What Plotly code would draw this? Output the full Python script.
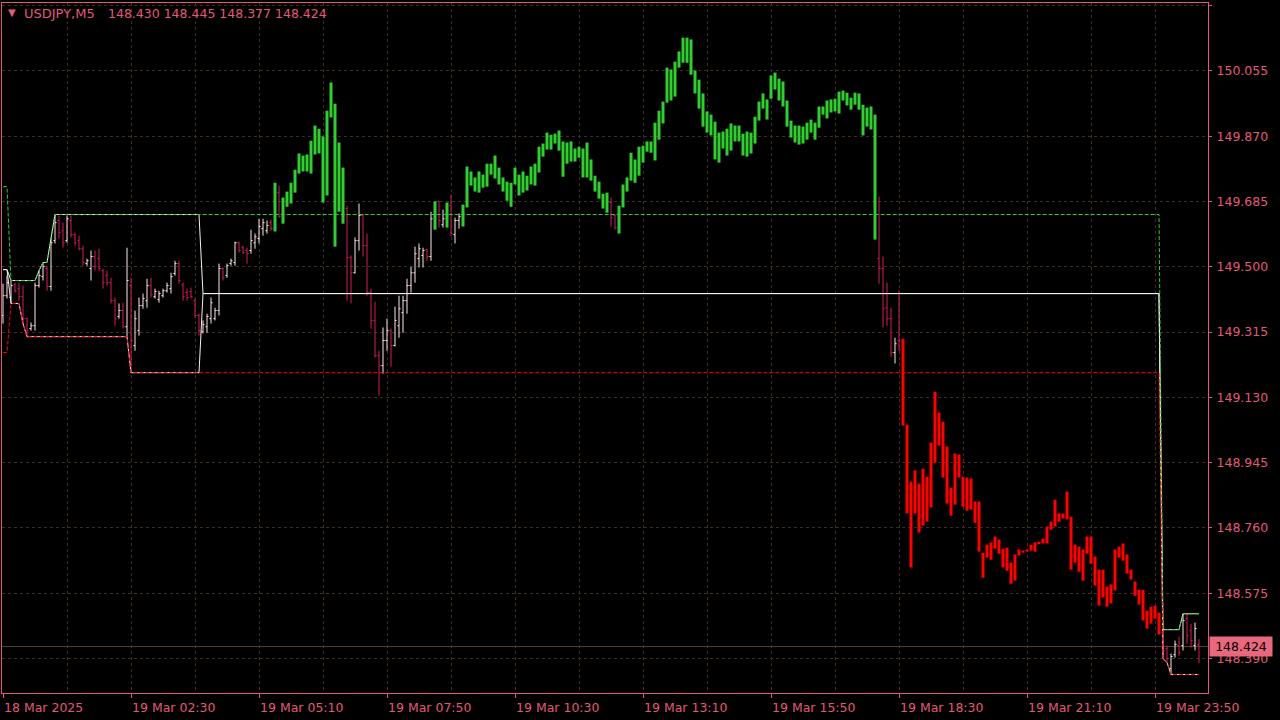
import numpy as np
import plotly.graph_objects as go

# ---------------- data (USDJPY, M5, bar 0 = 18 Mar 23:50) ----------------
open_ = [
149.362,149.418,149.413,149.449,149.438,149.415,149.353,149.325,149.333,149.447,
149.472,149.495,149.444,149.574,149.631,149.602,149.574,149.631,149.591,149.574,
149.551,149.509,149.495,149.529,149.523,149.489,149.475,149.455,149.404,149.359,
149.376,149.330,149.447,149.277,149.319,149.390,149.404,149.447,149.415,149.407,
149.418,149.432,149.438,149.481,149.509,149.449,149.427,149.430,149.404,149.362,
149.316,149.330,149.353,149.353,149.376,149.495,149.475,149.509,149.512,149.568,
149.554,149.546,149.546,149.568,149.580,149.608,149.602,149.625,149.600,149.710,
149.622,149.670,149.679,149.710,149.764,149.815,149.770,149.764,149.818,149.891,
149.869,149.702,149.923,149.557,149.852,149.622,149.665,149.526,149.483,149.574,
149.645,149.560,149.427,149.348,149.248,149.220,149.291,149.319,149.277,149.333,
149.370,149.404,149.447,149.483,149.523,149.532,149.549,149.529,149.605,149.685,
149.619,149.611,149.673,149.591,149.631,149.614,149.668,149.730,149.753,149.710,
149.761,149.727,149.761,149.750,149.781,149.753,149.741,149.670,149.733,149.761,
149.710,149.716,149.733,149.792,149.767,149.812,149.832,149.874,149.849,149.829,
149.855,149.792,149.855,149.798,149.840,149.835,149.753,149.804,149.758,149.741,
149.707,149.710,149.682,149.645,149.594,149.668,149.713,149.744,149.804,149.758,
149.843,149.826,149.855,149.801,149.860,149.906,149.965,150.059,149.982,150.064,
150.078,150.149,150.144,150.056,150.030,149.991,149.940,149.872,149.911,149.795,
149.883,149.815,149.906,149.855,149.900,149.877,149.812,149.880,149.849,149.914,
149.948,149.974,149.976,150.002,150.033,150.025,149.971,149.914,149.900,149.846,
149.897,149.860,149.880,149.908,149.894,149.931,149.920,149.937,149.976,149.934,
149.971,149.993,149.945,149.959,149.991,149.959,149.897,149.954,149.577,149.523,
149.495,149.384,149.353,149.257,149.291,149.296,149.053,148.891,148.801,148.886,
148.767,148.905,148.818,148.945,149.087,149.061,148.991,148.874,148.826,148.968,
148.905,148.809,148.900,148.835,148.835,148.690,148.676,148.719,148.701,148.727,
148.701,148.639,148.662,148.611,148.682,148.690,148.693,148.696,148.719,148.716,
148.716,148.716,148.755,148.764,148.801,148.787,148.784,148.792,148.662,148.707,
148.699,148.687,148.736,148.679,148.642,148.563,148.594,148.546,148.583,148.707,
148.716,148.685,148.642,148.608,148.585,148.585,148.526,148.489,148.540,148.520,
148.464,148.418,148.362,148.401,148.427,148.427,148.503,148.469,148.427,148.430,
]
high = [
149.452,149.475,149.461,149.455,149.455,149.447,149.356,149.342,149.455,149.489,
149.512,149.503,149.580,149.648,149.645,149.625,149.645,149.645,149.597,149.588,
149.560,149.523,149.546,149.546,149.551,149.495,149.489,149.469,149.413,149.396,
149.398,149.554,149.469,149.376,149.413,149.424,149.466,149.469,149.438,149.432,
149.438,149.455,149.483,149.517,149.517,149.455,149.438,149.441,149.410,149.367,
149.348,149.367,149.413,149.384,149.509,149.498,149.509,149.523,149.571,149.571,
149.560,149.554,149.605,149.594,149.636,149.636,149.631,149.634,149.738,149.730,
149.696,149.713,149.738,149.775,149.821,149.815,149.818,149.857,149.900,149.891,
149.869,149.942,150.022,149.962,149.852,149.781,149.673,149.532,149.583,149.679,
149.651,149.594,149.438,149.401,149.262,149.328,149.353,149.325,149.387,149.418,
149.418,149.466,149.500,149.557,149.566,149.554,149.551,149.656,149.685,149.687,
149.662,149.682,149.704,149.639,149.651,149.676,149.784,149.770,149.753,149.770,
149.761,149.792,149.792,149.815,149.781,149.753,149.741,149.738,149.781,149.761,
149.770,149.758,149.784,149.792,149.840,149.849,149.880,149.874,149.877,149.886,
149.855,149.852,149.855,149.835,149.840,149.835,149.852,149.804,149.758,149.741,
149.707,149.710,149.696,149.648,149.673,149.733,149.753,149.823,149.804,149.840,
149.843,149.855,149.855,149.908,149.942,149.968,150.064,150.059,150.081,150.110,
150.149,150.149,150.144,150.056,150.030,149.991,149.940,149.931,149.911,149.880,
149.883,149.891,149.906,149.900,149.900,149.877,149.883,149.880,149.925,149.968,
149.991,149.974,150.042,150.050,150.033,150.025,149.971,149.914,149.900,149.900,
149.897,149.908,149.917,149.908,149.954,149.954,149.971,149.974,149.976,149.996,
149.999,149.993,149.979,149.993,149.991,149.959,149.951,149.954,149.931,149.699,
149.529,149.455,149.384,149.299,149.432,149.296,149.053,148.891,148.923,148.886,
148.928,148.905,149.002,149.146,149.087,149.061,148.991,148.874,148.971,148.968,
148.905,148.903,148.900,148.835,148.835,148.690,148.713,148.719,148.736,148.727,
148.701,148.704,148.662,148.685,148.699,148.696,148.699,148.713,148.719,148.721,
148.730,148.764,148.778,148.840,148.801,148.801,148.863,148.792,148.713,148.707,
148.699,148.736,148.736,148.679,148.642,148.642,148.594,148.600,148.699,148.707,
148.716,148.685,148.642,148.608,148.585,148.585,148.526,148.537,148.540,148.520,
148.472,148.427,148.404,148.441,148.452,148.517,148.517,148.489,148.492,148.445,
]
low = [
149.339,149.410,149.396,149.427,149.404,149.339,149.302,149.319,149.319,149.441,
149.461,149.432,149.432,149.566,149.580,149.554,149.568,149.583,149.560,149.546,
149.503,149.503,149.461,149.489,149.489,149.438,149.447,149.396,149.333,149.353,
149.325,149.302,149.200,149.262,149.305,149.381,149.384,149.413,149.410,149.398,
149.413,149.427,149.424,149.475,149.452,149.404,149.404,149.410,149.356,149.305,
149.311,149.313,149.339,149.348,149.362,149.461,149.469,149.503,149.503,149.540,
149.537,149.509,149.537,149.551,149.566,149.588,149.594,149.602,149.600,149.639,
149.622,149.670,149.679,149.710,149.764,149.770,149.770,149.764,149.818,149.821,
149.682,149.702,149.923,149.557,149.656,149.622,149.404,149.396,149.481,149.546,
149.529,149.418,149.325,149.243,149.135,149.197,149.262,149.217,149.274,149.299,
149.313,149.367,149.427,149.455,149.498,149.498,149.517,149.517,149.605,149.611,
149.611,149.611,149.588,149.566,149.608,149.614,149.668,149.730,149.713,149.710,
149.724,149.727,149.761,149.750,149.733,149.713,149.687,149.670,149.733,149.702,
149.710,149.716,149.733,149.730,149.767,149.812,149.832,149.832,149.849,149.829,
149.755,149.792,149.798,149.798,149.809,149.753,149.753,149.744,149.713,149.693,
149.665,149.653,149.614,149.605,149.594,149.668,149.713,149.744,149.738,149.758,
149.795,149.826,149.823,149.801,149.860,149.906,149.965,149.971,149.982,150.064,
150.078,150.078,150.044,149.991,149.948,149.897,149.880,149.872,149.804,149.795,
149.835,149.815,149.829,149.855,149.855,149.815,149.812,149.821,149.849,149.914,
149.948,149.917,149.976,150.002,149.971,149.954,149.897,149.866,149.852,149.846,
149.849,149.860,149.880,149.860,149.894,149.931,149.920,149.937,149.940,149.934,
149.971,149.957,149.945,149.959,149.945,149.872,149.897,149.889,149.577,149.452,
149.328,149.333,149.245,149.226,149.262,149.050,148.801,148.648,148.801,148.747,
148.767,148.778,148.818,148.945,148.993,148.903,148.829,148.795,148.826,148.903,
148.820,148.809,148.812,148.775,148.693,148.619,148.676,148.670,148.701,148.687,
148.648,148.639,148.602,148.611,148.682,148.690,148.693,148.696,148.693,148.716,
148.716,148.716,148.755,148.764,148.778,148.787,148.784,148.642,148.662,148.636,
148.611,148.687,148.659,148.597,148.540,148.563,148.537,148.546,148.583,148.676,
148.667,148.631,148.614,148.568,148.543,148.498,148.475,148.489,148.503,148.458,
148.390,148.379,148.345,148.393,148.398,148.413,148.432,148.421,148.413,148.377,
]
close = [
149.418,149.455,149.447,149.432,149.415,149.353,149.319,149.333,149.447,149.475,
149.500,149.444,149.568,149.625,149.597,149.568,149.636,149.591,149.568,149.551,
149.512,149.517,149.529,149.500,149.495,149.455,149.455,149.404,149.353,149.376,
149.330,149.461,149.291,149.353,149.390,149.410,149.447,149.421,149.430,149.424,
149.432,149.447,149.472,149.509,149.461,149.415,149.413,149.415,149.362,149.319,
149.336,149.359,149.398,149.376,149.495,149.469,149.503,149.517,149.568,149.546,
149.540,149.537,149.574,149.585,149.614,149.625,149.617,149.608,149.738,149.642,
149.696,149.713,149.738,149.775,149.821,149.770,149.818,149.857,149.900,149.821,
149.682,149.942,150.022,149.962,149.656,149.781,149.526,149.483,149.574,149.645,
149.560,149.427,149.348,149.248,149.220,149.291,149.319,149.277,149.348,149.381,
149.404,149.447,149.483,149.537,149.551,149.546,149.529,149.636,149.685,149.631,
149.636,149.682,149.594,149.631,149.642,149.676,149.784,149.770,149.713,149.770,
149.724,149.792,149.792,149.815,149.733,149.713,149.687,149.738,149.781,149.702,
149.770,149.758,149.784,149.730,149.840,149.849,149.880,149.832,149.877,149.886,
149.755,149.852,149.798,149.835,149.809,149.753,149.852,149.744,149.713,149.693,
149.665,149.653,149.639,149.611,149.673,149.733,149.753,149.823,149.738,149.840,
149.795,149.855,149.823,149.908,149.942,149.968,150.064,149.971,150.081,150.110,
150.149,150.078,150.044,149.991,149.948,149.897,149.880,149.931,149.804,149.880,
149.835,149.891,149.829,149.900,149.855,149.815,149.883,149.821,149.925,149.968,
149.991,149.917,150.042,150.050,149.971,149.954,149.897,149.866,149.852,149.900,
149.849,149.908,149.917,149.860,149.954,149.954,149.971,149.974,149.940,149.996,
149.999,149.957,149.979,149.993,149.945,149.872,149.951,149.889,149.931,149.495,
149.381,149.353,149.257,149.282,149.265,149.050,148.801,148.648,148.923,148.747,
148.928,148.778,149.002,149.146,148.993,148.903,148.829,148.795,148.971,148.903,
148.820,148.903,148.812,148.775,148.693,148.619,148.713,148.670,148.736,148.687,
148.648,148.704,148.602,148.685,148.699,148.696,148.699,148.713,148.693,148.721,
148.730,148.764,148.778,148.840,148.778,148.801,148.863,148.642,148.713,148.636,
148.611,148.736,148.659,148.597,148.540,148.642,148.537,148.600,148.699,148.676,
148.667,148.631,148.614,148.568,148.543,148.498,148.475,148.537,148.503,148.458,
148.413,148.390,148.396,148.430,148.407,148.498,148.455,148.441,148.475,148.424,
]

symbol = "USDJPY,M5"
prev_day_high = 149.727      # previous session range (visible at the left edge)
prev_day_low = 149.257
day_start_bars = [2, 290]    # 00:00 bars
range_bars = 48              # 00:00 - 04:00 range box

x_tick_bars = [0, 32, 64, 96, 128, 160, 192, 224, 256, 288]
x_tick_labels = ["18 Mar 2025", "19 Mar 02:30", "19 Mar 05:10", "19 Mar 07:50",
                 "19 Mar 10:30", "19 Mar 13:10", "19 Mar 15:50", "19 Mar 18:30",
                 "19 Mar 21:10", "19 Mar 23:50"]
y_ticks = [148.390, 148.575, 148.760, 148.945, 149.130, 149.315,
           149.500, 149.685, 149.870, 150.055, 150.240]

# ---------------- styling ----------------
FG = "#e25a78"
GRID = "#3e2e1f"
BULL = "#fde6e8"
BEAR = "#d21c5c"
UPC = "#32cd32"
DNC = "#ff0000"
FONT = "DejaVu Sans"

o = np.array(open_); h = np.array(high); l = np.array(low); c = np.array(close)
h = np.maximum.reduce([h, o, c]); l = np.minimum.reduce([l, o, c])
n = len(c)
idx = np.arange(n)

# ---------------- range-breakout levels ----------------
up_lvl = np.full(n, np.nan); dn_lvl = np.full(n, np.nan)
w_up = np.full(n, np.nan); w_dn = np.full(n, np.nan)
breakout = np.zeros(n, dtype=bool)
first = day_start_bars[0]
up_lvl[:first] = prev_day_high; dn_lvl[:first] = prev_day_low
w_up[:first] = w_dn[:first] = (prev_day_high + prev_day_low) / 2
breakout[:first] = True
bounds = day_start_bars + [n]
for s, e in zip(bounds[:-1], bounds[1:]):
    hi, lo = -np.inf, np.inf
    for i in range(s, e):
        if i < s + range_bars:
            hi = max(hi, h[i]); lo = min(lo, l[i])
            w_up[i], w_dn[i] = hi, lo
        else:
            w_up[i] = w_dn[i] = (hi + lo) / 2
            breakout[i] = True
        up_lvl[i], dn_lvl[i] = hi, lo

state_up = breakout & (c > up_lvl)
state_dn = breakout & (c < dn_lvl)
neutral = ~(state_up | state_dn)

fig = go.Figure()
fig.add_trace(go.Scatter(x=idx, y=w_up, mode="lines", line=dict(color="#f2f2f2", width=1),
                         hoverinfo="skip", showlegend=False))
fig.add_trace(go.Scatter(x=idx, y=w_dn, mode="lines", line=dict(color="#f2f2f2", width=1),
                         hoverinfo="skip", showlegend=False))
fig.add_trace(go.Scatter(x=idx, y=up_lvl, mode="lines",
                         line=dict(color=UPC, width=1, dash="4px,2px"),
                         hoverinfo="skip", showlegend=False))
fig.add_trace(go.Scatter(x=idx, y=dn_lvl, mode="lines",
                         line=dict(color=DNC, width=1, dash="4px,2px"),
                         hoverinfo="skip", showlegend=False))

fig.add_trace(go.Ohlc(x=idx[neutral], open=o[neutral], high=h[neutral], low=l[neutral],
                      close=c[neutral], tickwidth=0.4,
                      increasing=dict(line=dict(color=BULL, width=1)),
                      decreasing=dict(line=dict(color=BEAR, width=1)),
                      hoverinfo="skip", showlegend=False))

for mask, col in ((state_up, UPC), (state_dn, DNC)):
    base = np.minimum(o[mask], c[mask])
    size = np.abs(o[mask] - c[mask])
    fig.add_trace(go.Bar(x=idx[mask], y=size, base=base, width=0.75,
                         marker=dict(color=col, line=dict(width=0)),
                         hoverinfo="skip", showlegend=False))

last = c[-1]
fig.add_shape(type="line", xref="paper", x0=0, x1=1, yref="y", y0=last, y1=last,
              line=dict(color="#5a4632", width=1), layer="below")

fig.add_annotation(xref="paper", yref="paper", x=0, y=1, xanchor="left", yanchor="middle",
                   xshift=4, yshift=-9, text="▼", showarrow=False,
                   font=dict(family=FONT, size=10, color=FG))
fig.add_annotation(xref="paper", yref="paper", x=0, y=1, xanchor="left", yanchor="middle",
                   xshift=20, yshift=-10, text=symbol, showarrow=False,
                   font=dict(family=FONT, size=13, color=FG))
fig.add_annotation(xref="paper", yref="paper", x=0, y=1, xanchor="left", yanchor="middle",
                   xshift=104, yshift=-10,
                   text=f"{o[-1]:.3f} {h[-1]:.3f} {l[-1]:.3f} {c[-1]:.3f}", showarrow=False,
                   font=dict(family=FONT, size=12.5, color=FG))
fig.add_annotation(xref="paper", yref="y", x=1, y=last, xanchor="left", yanchor="middle",
                   xshift=1, text=f"{last:.3f}", showarrow=False, bgcolor="#e8687e",
                   width=58, height=15, borderpad=2,
                   font=dict(family=FONT, size=12.5, color="#000000"))

fig.update_layout(
    width=1280, height=720, autosize=False,
    margin=dict(l=2, r=72, t=3, b=27),
    paper_bgcolor="#000000", plot_bgcolor="#000000",
    barmode="overlay", hovermode=False, showlegend=False,
    xaxis=dict(range=[-0.25, 301.25], tickmode="array", tickvals=x_tick_bars,
               ticktext=x_tick_labels, ticks="outside", ticklen=4, tickcolor=FG,
               ticklabelposition="outside right", ticklabelstandoff=3,
               showgrid=True, gridcolor=GRID, griddash="3px,3px", gridwidth=1,
               minor=dict(tickmode="array", tickvals=[b + 16 for b in x_tick_bars],
                          showgrid=True, gridcolor=GRID, griddash="3px,3px", ticks=""),
               showline=True, linecolor=FG, linewidth=1, mirror=True, zeroline=False,
               rangeslider=dict(visible=False),
               tickfont=dict(family=FONT, size=12.5, color=FG)),
    yaxis=dict(side="right", range=[148.2925, 150.2472], tickmode="array",
               tickvals=y_ticks, ticktext=[f"{v:.3f}" for v in y_ticks],
               ticks="outside", ticklen=3, tickcolor=FG, ticklabelstandoff=2,
               showgrid=True, gridcolor=GRID, griddash="3px,3px", gridwidth=1,
               showline=True, linecolor=FG, linewidth=1, mirror=True, zeroline=False,
               tickfont=dict(family=FONT, size=12.5, color=FG)),
)

fig.write_html("out.html", config={"displayModeBar": False},
               post_script="document.body.style.margin='0px';document.body.style.background='#000';")
